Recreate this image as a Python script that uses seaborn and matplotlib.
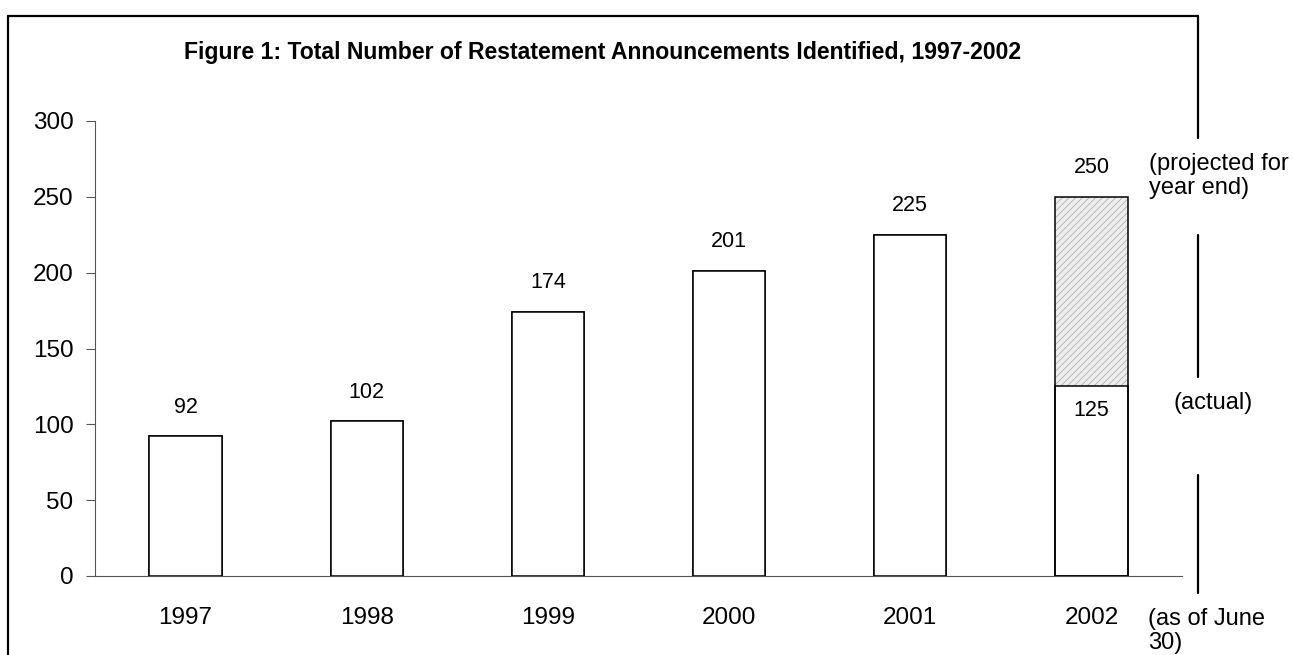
import numpy as np
import pandas as pd
import matplotlib
matplotlib.use("Agg")
import matplotlib.pyplot as plt
from matplotlib.lines import Line2D
from matplotlib.patches import Rectangle
import seaborn as sns

years = ["1997", "1998", "1999", "2000", "2001", "2002"]
totals = [92, 102, 174, 201, 225, 250]      # 2002 = projected for year end
actual = [92, 102, 174, 201, 225, 125]      # 2002 = as of June 30
y_ticks = [0, 50, 100, 150, 200, 250, 300]

title = "Figure 1: Total Number of Restatement Announcements Identified, 1997-2002"
note_projected = "(projected for\nyear end)"
note_actual = "(actual)"
note_june = "(as of June\n30)"

W, H = 1293, 655
sns.set_style("white")
plt.rcParams["font.family"] = ["Liberation Sans", "DejaVu Sans"]
plt.rcParams["hatch.linewidth"] = 0.6
plt.rcParams["text.color"] = "black"
plt.rcParams["xtick.color"] = "black"
plt.rcParams["ytick.color"] = "black"

df = pd.DataFrame({"year": years, "total": totals, "actual": actual})

fig = plt.figure(figsize=(W / 100, H / 100), dpi=100)
ax = fig.add_axes([95 / W, 1 - 576 / H, (1182 - 95) / W, (576 - 121) / H])

# full height bars (2002 gets the projected hatch)
sns.barplot(data=df, x="year", y="total", order=years, color="white",
            saturation=1, width=0.4, edgecolor="black", linewidth=1.1, ax=ax)
proj = ax.patches[-1]
proj.set_facecolor("#eeeeee")
proj.set_edgecolor("#b0b0b0")
proj.set_hatch("/////")
proj.set_linewidth(0)
ax.add_patch(Rectangle(proj.get_xy(), proj.get_width(), proj.get_height(),
                       fill=False, edgecolor="black", linewidth=1.1, zorder=3))

# actual counts on top
n_before = len(ax.patches)
sns.barplot(data=df, x="year", y="actual", order=years, color="white",
            saturation=1, width=0.4, edgecolor="black", linewidth=1.1, ax=ax)
act_bars = ax.patches[n_before:]

for p, v in zip(ax.patches[:len(years)], totals):
    ax.annotate(str(v), (p.get_x() + p.get_width() / 2, p.get_height()),
                xytext=(0, 21), textcoords="offset points",
                ha="center", va="center", fontsize=15.5)
last = act_bars[-1]
ax.annotate(str(actual[-1]), (last.get_x() + last.get_width() / 2, last.get_height()),
            xytext=(0, -17), textcoords="offset points",
            ha="center", va="center", fontsize=15.5, zorder=5)

ax.set_xlim(-0.5, len(years) - 0.5)
ax.set_ylim(0, 300)
ax.set_yticks(y_ticks)
ax.set_xlabel("")
ax.set_ylabel("")
ax.set_xticks(np.arange(len(years) + 1) - 0.5, minor=True)
ax.tick_params(axis="x", which="major", length=0, pad=22, labelsize=17.5)
ax.tick_params(axis="x", which="minor", length=6, width=0.8, color="#555555", direction="out")
ax.tick_params(axis="y", length=6.5, width=0.8, color="#555555", direction="out",
               pad=9, labelsize=17.5, left=True)
for s in ["top", "right"]:
    ax.spines[s].set_visible(False)
for s in ["left", "bottom"]:
    ax.spines[s].set_color("#555555")
    ax.spines[s].set_linewidth(0.8)

# title and side notes
fig.text(603 / W, 1 - 52 / H, title, ha="center", va="center",
         fontsize=16.6, fontweight="bold")
fig.text(1149 / W, 1 - 176 / H, note_projected, ha="left", va="center",
         fontsize=17, linespacing=1.1)
fig.text(1213 / W, 1 - 403 / H, note_actual, ha="center", va="center", fontsize=17)
fig.text(1148 / W, 1 - 631 / H, note_june, ha="left", va="center",
         fontsize=17, linespacing=1.1)

# outer frame, broken where the side notes sit
def fline(x0, y0, x1, y1):
    fig.add_artist(Line2D([x0 / W, x1 / W], [1 - y0 / H, 1 - y1 / H],
                          transform=fig.transFigure, color="black", linewidth=1.6))

fline(8, 16, 1198, 16)
fline(8, 16, 8, 660)
fline(1198, 16, 1198, 138)
fline(1198, 235, 1198, 377)
fline(1198, 475, 1198, 593)

fig.savefig("out.png", dpi=100)
